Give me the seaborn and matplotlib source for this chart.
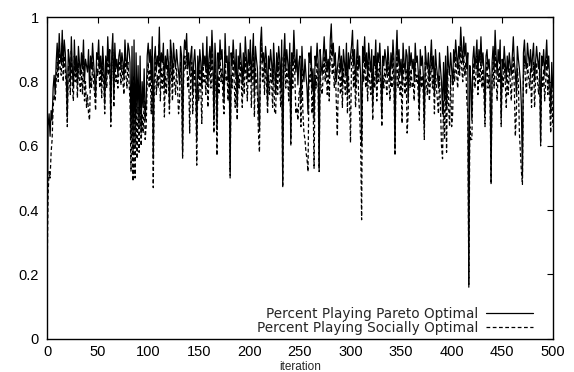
import numpy as np
import pandas as pd
import matplotlib
matplotlib.use("Agg")
import matplotlib.pyplot as plt
import seaborn as sns

pareto = [
    0.22, 0.66, 0.70, 0.63, 0.71, 0.68, 0.78, 0.82, 0.76, 0.86,
    0.92, 0.84, 0.95, 0.88, 0.86, 0.96, 0.85, 0.93, 0.89, 0.82,
    0.69, 0.90, 0.87, 0.80, 0.94, 0.84, 0.78, 0.93, 0.83, 0.88,
    0.79, 0.91, 0.86, 0.82, 0.89, 0.84, 0.93, 0.80, 0.87, 0.85,
    0.83, 0.90, 0.78, 0.88, 0.84, 0.92, 0.86, 0.81, 0.75, 0.89,
    0.87, 0.93, 0.84, 0.88, 0.80, 0.91, 0.85, 0.73, 0.88, 0.82,
    0.94, 0.86, 0.90, 0.68, 0.89, 0.95, 0.75, 0.92, 0.84, 0.87,
    0.82, 0.88, 0.90, 0.84, 0.89, 0.86, 0.81, 0.93, 0.87, 0.84,
    0.92, 0.90, 0.86, 0.62, 0.91, 0.58, 0.93, 0.60, 0.89, 0.70,
    0.85, 0.66, 0.88, 0.64, 0.80, 0.72, 0.84, 0.68, 0.74, 0.88,
    0.92, 0.86, 0.90, 0.80, 0.94, 0.56, 0.87, 0.91, 0.83, 0.88,
    0.85, 0.97, 0.82, 0.89, 0.86, 0.92, 0.78, 0.88, 0.84, 0.90,
    0.86, 0.73, 0.93, 0.89, 0.80, 0.92, 0.87, 0.84, 0.90, 0.86,
    0.83, 0.79, 0.91, 0.88, 0.58, 0.87, 0.93, 0.90, 0.95, 0.84,
    0.89, 0.82, 0.88, 0.91, 0.76, 0.86, 0.90, 0.84, 0.62, 0.88,
    0.81, 0.90, 0.86, 0.78, 0.92, 0.85, 0.88, 0.83, 0.94, 0.79,
    0.87, 0.91, 0.84, 0.96, 0.88, 0.68, 0.92, 0.86, 0.65, 0.89,
    0.84, 0.93, 0.87, 0.90, 0.82, 0.74, 0.95, 0.86, 0.88, 0.80,
    0.91, 0.52, 0.89, 0.85, 0.93, 0.87, 0.82, 0.90, 0.72, 0.88,
    0.84, 0.92, 0.86, 0.79, 0.89, 0.83, 0.94, 0.88, 0.81, 0.90,
    0.85, 0.93, 0.80, 0.88, 0.95, 0.76, 0.91, 0.87, 0.84, 0.72,
    0.65, 0.92, 0.97, 0.86, 0.89, 0.83, 0.91, 0.87, 0.73, 0.88,
    0.84, 0.90, 0.86, 0.80, 0.92, 0.85, 0.76, 0.89, 0.83, 0.91,
    0.87, 0.78, 0.93, 0.48, 0.88, 0.95, 0.84, 0.90, 0.86, 0.81,
    0.92, 0.62, 0.89, 0.85, 0.96, 0.88, 0.83, 0.90, 0.79, 0.86,
    0.88, 0.74, 0.91, 0.84, 0.80, 0.87, 0.82, 0.78, 0.70, 0.89,
    0.86, 0.91, 0.77, 0.84, 0.68, 0.88, 0.85, 0.92, 0.86, 0.53,
    0.90, 0.85, 0.82, 0.88, 0.94, 0.86, 0.90, 0.83, 0.87, 0.81,
    0.93, 0.98, 0.88, 0.92, 0.85, 0.89, 0.80, 0.84, 0.87, 0.91,
    0.83, 0.88, 0.79, 0.90, 0.86, 0.82, 0.92, 0.76, 0.89, 0.84,
    0.88, 0.91, 0.96, 0.85, 0.90, 0.78, 0.87, 0.93, 0.84, 0.88,
    0.82, 0.60, 0.91, 0.86, 0.94, 0.84, 0.89, 0.80, 0.92, 0.87,
    0.83, 0.90, 0.72, 0.88, 0.85, 0.93, 0.80, 0.89, 0.86, 0.92,
    0.84, 0.69, 0.88, 0.85, 0.90, 0.87, 0.82, 0.91, 0.86, 0.80,
    0.89, 0.84, 0.93, 0.87, 0.59, 0.88, 0.96, 0.85, 0.90, 0.82,
    0.87, 0.79, 0.92, 0.86, 0.83, 0.90, 0.88, 0.74, 0.91, 0.85,
    0.89, 0.84, 0.87, 0.80, 0.92, 0.86, 0.88, 0.83, 0.72, 0.90,
    0.85, 0.88, 0.82, 0.66, 0.91, 0.86, 0.84, 0.89, 0.80, 0.87,
    0.93, 0.84, 0.88, 0.76, 0.90, 0.85, 0.82, 0.78, 0.89, 0.84,
    0.80, 0.70, 0.86, 0.74, 0.88, 0.72, 0.91, 0.85, 0.82, 0.89,
    0.84, 0.79, 0.90, 0.86, 0.93, 0.88, 0.84, 0.91, 0.87, 0.97,
    0.90, 0.86, 0.94, 0.88, 0.92, 0.84, 0.89, 0.17, 0.85, 0.80,
    0.68, 0.87, 0.91, 0.84, 0.88, 0.93, 0.82, 0.90, 0.86, 0.94,
    0.85, 0.89, 0.83, 0.70, 0.88, 0.90, 0.84, 0.87, 0.82, 0.49,
    0.86, 0.91, 0.84, 0.96, 0.88, 0.82, 0.90, 0.86, 0.93, 0.69,
    0.87, 0.84, 0.91, 0.86, 0.80, 0.88, 0.83, 0.89, 0.85, 0.82,
    0.88, 0.94, 0.86, 0.83, 0.76, 0.91, 0.87, 0.84, 0.80, 0.72,
    0.50, 0.89, 0.93, 0.86, 0.84, 0.92, 0.88, 0.85, 0.90, 0.83,
    0.88, 0.92, 0.80, 0.86, 0.91, 0.87, 0.84, 0.89, 0.61, 0.88,
    0.85, 0.90, 0.82, 0.87, 0.93, 0.84, 0.88, 0.80, 0.70, 0.86,
    0.78,
]

social = [
    0.18, 0.45, 0.52, 0.50, 0.58, 0.62, 0.72, 0.76, 0.74, 0.80,
    0.86, 0.80, 0.90, 0.84, 0.82, 0.92, 0.80, 0.88, 0.84, 0.78,
    0.66, 0.85, 0.82, 0.76, 0.90, 0.79, 0.74, 0.88, 0.80, 0.84,
    0.75, 0.86, 0.80, 0.77, 0.84, 0.76, 0.88, 0.74, 0.80, 0.72,
    0.76, 0.70, 0.68, 0.82, 0.78, 0.86, 0.80, 0.76, 0.71, 0.84,
    0.82, 0.88, 0.78, 0.84, 0.75, 0.86, 0.80, 0.70, 0.84, 0.78,
    0.90, 0.82, 0.86, 0.66, 0.85, 0.90, 0.72, 0.88, 0.80, 0.82,
    0.78, 0.84, 0.86, 0.79, 0.85, 0.80, 0.76, 0.88, 0.82, 0.78,
    0.86, 0.80, 0.74, 0.52, 0.78, 0.49, 0.82, 0.50, 0.76, 0.56,
    0.72, 0.58, 0.76, 0.60, 0.70, 0.64, 0.74, 0.62, 0.66, 0.80,
    0.86, 0.78, 0.84, 0.70, 0.88, 0.47, 0.80, 0.86, 0.76, 0.82,
    0.78, 0.92, 0.74, 0.84, 0.78, 0.86, 0.69, 0.82, 0.76, 0.85,
    0.80, 0.70, 0.88, 0.82, 0.74, 0.86, 0.80, 0.76, 0.84, 0.78,
    0.70, 0.74, 0.86, 0.82, 0.56, 0.80, 0.88, 0.84, 0.90, 0.78,
    0.82, 0.64, 0.82, 0.86, 0.70, 0.78, 0.84, 0.76, 0.54, 0.80,
    0.74, 0.84, 0.78, 0.67, 0.86, 0.80, 0.82, 0.76, 0.88, 0.72,
    0.80, 0.86, 0.78, 0.90, 0.82, 0.64, 0.86, 0.78, 0.57, 0.82,
    0.76, 0.88, 0.80, 0.84, 0.74, 0.70, 0.90, 0.80, 0.82, 0.74,
    0.86, 0.50, 0.82, 0.78, 0.88, 0.80, 0.72, 0.84, 0.68, 0.82,
    0.78, 0.86, 0.80, 0.72, 0.84, 0.76, 0.88, 0.82, 0.74, 0.84,
    0.80, 0.88, 0.72, 0.82, 0.90, 0.69, 0.84, 0.80, 0.76, 0.64,
    0.58, 0.86, 0.92, 0.80, 0.84, 0.76, 0.86, 0.80, 0.70, 0.82,
    0.76, 0.84, 0.80, 0.72, 0.86, 0.70, 0.70, 0.84, 0.76, 0.86,
    0.80, 0.72, 0.88, 0.47, 0.82, 0.90, 0.78, 0.84, 0.80, 0.74,
    0.86, 0.60, 0.84, 0.78, 0.90, 0.82, 0.70, 0.72, 0.68, 0.76,
    0.78, 0.66, 0.84, 0.70, 0.64, 0.62, 0.58, 0.56, 0.52, 0.82,
    0.80, 0.86, 0.70, 0.76, 0.53, 0.82, 0.78, 0.86, 0.80, 0.52,
    0.84, 0.78, 0.76, 0.82, 0.88, 0.80, 0.86, 0.76, 0.82, 0.74,
    0.88, 0.92, 0.82, 0.86, 0.78, 0.84, 0.74, 0.63, 0.80, 0.86,
    0.76, 0.82, 0.72, 0.84, 0.80, 0.76, 0.86, 0.70, 0.82, 0.76,
    0.61, 0.86, 0.90, 0.78, 0.84, 0.72, 0.80, 0.88, 0.76, 0.70,
    0.62, 0.37, 0.84, 0.80, 0.88, 0.78, 0.82, 0.74, 0.86, 0.80,
    0.76, 0.84, 0.68, 0.82, 0.78, 0.88, 0.74, 0.84, 0.80, 0.86,
    0.78, 0.66, 0.82, 0.78, 0.84, 0.80, 0.76, 0.86, 0.80, 0.74,
    0.82, 0.78, 0.88, 0.80, 0.57, 0.82, 0.90, 0.78, 0.84, 0.76,
    0.80, 0.67, 0.86, 0.80, 0.76, 0.84, 0.64, 0.70, 0.86, 0.78,
    0.84, 0.78, 0.80, 0.74, 0.86, 0.80, 0.82, 0.76, 0.68, 0.84,
    0.78, 0.82, 0.76, 0.62, 0.86, 0.80, 0.76, 0.84, 0.74, 0.80,
    0.88, 0.78, 0.82, 0.70, 0.84, 0.78, 0.74, 0.70, 0.82, 0.72,
    0.60, 0.56, 0.74, 0.62, 0.80, 0.58, 0.84, 0.72, 0.66, 0.82,
    0.66, 0.70, 0.84, 0.80, 0.88, 0.82, 0.78, 0.86, 0.82, 0.92,
    0.84, 0.80, 0.88, 0.82, 0.86, 0.74, 0.70, 0.16, 0.66, 0.62,
    0.62, 0.80, 0.86, 0.78, 0.82, 0.88, 0.76, 0.84, 0.80, 0.88,
    0.78, 0.84, 0.76, 0.66, 0.82, 0.86, 0.78, 0.82, 0.76, 0.48,
    0.80, 0.86, 0.78, 0.90, 0.82, 0.74, 0.84, 0.80, 0.88, 0.66,
    0.82, 0.78, 0.86, 0.80, 0.72, 0.82, 0.76, 0.84, 0.80, 0.74,
    0.82, 0.88, 0.78, 0.63, 0.70, 0.84, 0.80, 0.64, 0.58, 0.52,
    0.48, 0.82, 0.88, 0.80, 0.76, 0.86, 0.82, 0.78, 0.84, 0.72,
    0.82, 0.86, 0.72, 0.80, 0.86, 0.80, 0.76, 0.84, 0.60, 0.82,
    0.78, 0.84, 0.74, 0.80, 0.88, 0.76, 0.82, 0.72, 0.64, 0.80,
    0.66,
]

labels = ["Percent Playing Pareto Optimal", "Percent Playing Socially Optimal"]
x_ticks = [0, 50, 100, 150, 200, 250, 300, 350, 400, 450, 500]
y_ticks = [0, 0.2, 0.4, 0.6, 0.8, 1]
y_ticklabels = ["0", "0.2", "0.4", "0.6", "0.8", "1"]

iters = np.arange(len(pareto))
df = pd.concat([
    pd.DataFrame({"iteration": iters, "value": pareto, "series": labels[0]}),
    pd.DataFrame({"iteration": iters, "value": social, "series": labels[1]}),
])

sns.set_style("white")
plt.rcParams["font.family"] = ["Liberation Sans", "DejaVu Sans"]

fig = plt.figure(figsize=(5.74, 3.72), dpi=100)
ax = fig.add_axes([0.082, 0.090, 0.881, 0.863])

sns.lineplot(data=df, x="iteration", y="value", hue="series", style="series",
             palette=["black", "black"], dashes=[(None, None), (3, 2)],
             linewidth=0.9, ax=ax, legend=True, estimator=None, sort=False)

ax.set_xlim(0, 500)
ax.set_ylim(0, 1)
ax.set_xticks(x_ticks)
ax.set_xticklabels([str(t) for t in x_ticks])
ax.set_yticks(y_ticks)
ax.set_yticklabels(y_ticklabels)
ax.tick_params(direction="in", length=4, width=0.8, labelsize=10.5,
               top=True, right=True, colors="black")
ax.tick_params(axis="x", pad=5)
ax.tick_params(axis="y", pad=6)
ax.set_xlabel("iteration", fontsize=8.5, labelpad=1)
ax.set_ylabel("")
for s in ax.spines.values():
    s.set_color("black")
    s.set_linewidth(1.0)

h, l = ax.get_legend_handles_labels()
leg = ax.legend(h, l, loc="lower right", frameon=False, markerfirst=False,
                prop={"family": ["DejaVu Sans"], "size": 9.8},
                handlelength=3.4, handletextpad=0.6,
                labelspacing=0.0, borderpad=0.0, borderaxespad=0.0,
                bbox_to_anchor=(0.960, 0.012))

fig.savefig("out.png", dpi=100)
